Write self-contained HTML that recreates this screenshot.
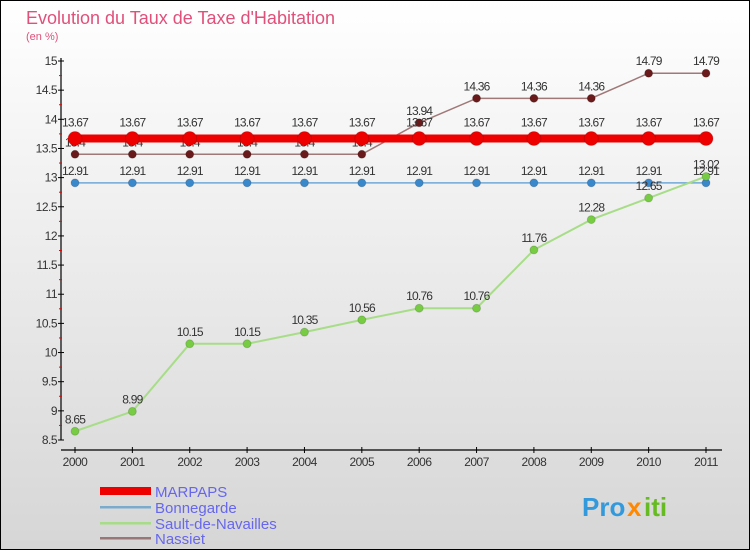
<!DOCTYPE html>
<html><head><meta charset="utf-8"><style>
body{margin:0;width:750px;height:550px;overflow:hidden}
svg{display:block;font-family:"Liberation Sans","DejaVu Sans",sans-serif}
</style></head><body>
<svg id="chart" width="750" height="550">
<defs><linearGradient id="bg" x1="0" y1="0" x2="0" y2="1"><stop offset="0" stop-color="#ffffff"/><stop offset="1" stop-color="#d6d6d6"/></linearGradient></defs>
<rect x="0.5" y="0.5" width="749" height="549" fill="url(#bg)" stroke="#000"/>
<text x="26" y="24" font-size="18" fill="#e0507a">Evolution du Taux de Taxe d'Habitation</text>
<text x="26" y="40" font-size="11" fill="#e0507a">(en %)</text>
<g id="axes"></g>
<g id="series"></g>
<g id="legend">
<rect x="100" y="487" width="51" height="8" fill="#e00"/>
<text x="155" y="497" font-size="15" fill="#6666ee">MARPAPS</text>
<rect x="100" y="506" width="51" height="2.5" fill="#7aaacc"/>
<text x="155" y="513" font-size="15" fill="#6666ee">Bonnegarde</text>
<rect x="100" y="522" width="51" height="2.5" fill="#a8dd88"/>
<text x="155" y="529" font-size="15" fill="#6666ee">Sault-de-Navailles</text>
<rect x="100" y="537" width="51" height="2.5" fill="#997777"/>
<text x="155" y="544" font-size="15" fill="#6666ee">Nassiet</text>
</g>
<g font-size="26" font-weight="bold">
<text x="582" y="516" fill="#3399dd">Pro</text><text x="627" y="516" fill="#ff8800">x</text><text x="644" y="516" fill="#66bb22">iti</text>
</g>
</svg>
<script>
const years=[2000,2001,2002,2003,2004,2005,2006,2007,2008,2009,2010,2011];
const marpaps=[13.67,13.67,13.67,13.67,13.67,13.67,13.67,13.67,13.67,13.67,13.67,13.67];
const bonnegarde=[12.91,12.91,12.91,12.91,12.91,12.91,12.91,12.91,12.91,12.91,12.91,12.91];
const sault=[8.65,8.99,10.15,10.15,10.35,10.56,10.76,10.76,11.76,12.28,12.65,13.02];
const nassiet=[13.4,13.4,13.4,13.4,13.4,13.4,13.94,14.36,14.36,14.36,14.79,14.79];
const yTicks=[8.5,9,9.5,10,10.5,11,11.5,12,12.5,13,13.5,14,14.5,15];
const NS='http://www.w3.org/2000/svg';
const x=i=>75+i*(706-75)/11;
const y=v=>440-(v-8.5)*(440-61)/6.5;
function el(tag,attrs,parent,txt){const e=document.createElementNS(NS,tag);for(const k in attrs)e.setAttribute(k,attrs[k]);if(txt!==undefined)e.textContent=txt;parent.appendChild(e);return e;}
const ax=document.getElementById('axes');
let a=el('line',{x1:61,y1:58,x2:61,y2:440,stroke:'#000','stroke-width':1.2},ax);


a=el('line',{x1:61,y1:450,x2:722,y2:450,stroke:'#000','stroke-width':1.2},ax);


yTicks.forEach((t,i)=>{
  el('line',{x1:58,y1:y(t),x2:64,y2:y(t),stroke:'#000'},ax);
  if(i<yTicks.length-1) el('line',{x1:59,y1:y(t+0.25),x2:62,y2:y(t+0.25),stroke:'#e00'},ax);
  const l=el('text',{x:57,y:y(t)+4,'font-size':12,'text-anchor':'end',fill:'#333','letter-spacing':'-0.5'},ax,String(t));
  
  
});
years.forEach((yr,i)=>{
  el('line',{x1:x(i),y1:447,x2:x(i),y2:453,stroke:'#000'},ax);
  const l=el('text',{x:x(i),y:466,'font-size':12,'text-anchor':'middle',fill:'#333','letter-spacing':'-0.5'},ax,String(yr));
  
  
});
const sg=document.getElementById('series');
function series(vals,name,line,lw,dot,r,labelDy){
  const g=el('g',{},sg);
  
  
  const p=el('polyline',{points:vals.map((v,i)=>x(i)+','+y(v)).join(' '),fill:'none',stroke:line,'stroke-width':lw},g);
  
  
  vals.forEach((v,i)=>{
    const c=el('circle',{cx:x(i),cy:y(v),r:r,fill:dot,stroke:'rgba(0,0,0,0.15)'},g);
    
    
    const t=el('text',{x:x(i),y:y(v)+labelDy,'font-size':12,'text-anchor':'middle',fill:'#333','letter-spacing':'-0.8'},g,String(v).replace('.','.'));
    
    
  });
}
series(bonnegarde,'bonnegarde','#6fa8d8',1.5,'#3a88cc',4,-8);
series(sault,'sault-de-navailles','#a8dd88',2,'#77cc44',4,-8);
series(nassiet,'nassiet','#a07878',1.5,'#6a1a1a',4,-8);
series(marpaps,'marpaps','#ee0000',8,'#ee0000',7,-12);
</script>
</body></html>
